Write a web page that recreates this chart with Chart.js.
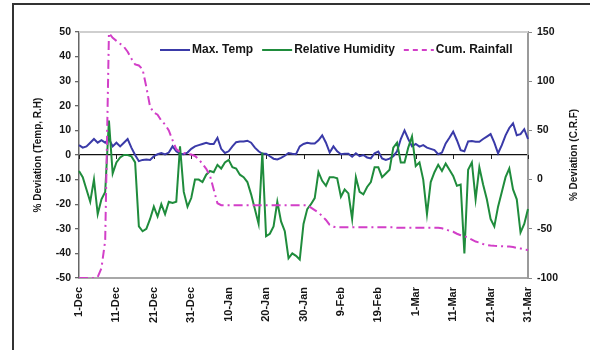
<!DOCTYPE html>
<html>
<head>
<meta charset="utf-8">
<script src="https://cdn.jsdelivr.net/npm/chart.js@4/dist/chart.umd.min.js"></script>
<style>
  html, body { margin: 0; padding: 0; background: #fff; overflow: hidden; }
  #wrap { position: relative; width: 590px; height: 350px; overflow: hidden; background: #fff; }
  #frame { position: absolute; left: 12px; top: 3px; width: 700px; height: 500px;
           border-left: 2px solid #333; border-top: 2px solid #333; }
  #c { position: absolute; left: 0; top: 0; }
</style>
</head>
<body>
<div id="wrap">
  <div id="frame"></div>
  <canvas id="c" width="590" height="350"></canvas>
</div>
<script>
// Daily deviations, 1 December to 31 March
const months = [['Dec', 31], ['Jan', 31], ['Feb', 28], ['Mar', 31]];
const days = [];
months.forEach(([m, n]) => { for (let d = 1; d <= n; d++) days.push(d + '-' + m); });

const tickLabels = ['1-Dec', '11-Dec', '21-Dec', '31-Dec', '10-Jan', '20-Jan', '30-Jan',
                    '9-Feb', '19-Feb', '1-Mar', '11-Mar', '21-Mar', '31-Mar'];

// % deviation of maximum temperature (left axis)
const maxTemp = [
  4, 3, 3.5, 5, 6.5, 5, 6, 5, 6.5, 3.5,
  5, 3.5, 5, 6.5, 3, 0, -2.5, -2, -1.8, -2,
  -0.5, 0.3, 0.8, 0.2, 1, 3.5, 1.5, 0.5, 0.3, 1,
  2.5, 3.5, 4, 4.5, 5, 4.5, 4.5, 7, 2.5, 0.8,
  1.5, 3.5, 5.2, 5.5, 5.5, 5.8, 5, 3, 1.5, 0.5,
  0.5, -0.5, -1.5, -1.8, -1.2, -0.3, 0.8, 0.5, 0.3, 3.5,
  4.5, 5, 4.7, 4.7, 6, 8, 5, 1, 3.5, 1.5,
  0.3, 0.5, 0.5, -0.7, 0.7, -0.5, 0, -1, -1.4, 0.7,
  1.4, -1.4, -2, -1.5, -0.5, 1.5, 6.5, 10, 6.5, 3.5,
  4.5, 3.4, 4, 3, 2.5, 2, 0.3, 1, 4.7, 7,
  9.5, 6, 2, 1.5, 5.5, 5.7, 5.4, 5.4, 6.5, 7.5,
  8.5, 5, 0.7, 4, 8, 11, 12.9, 8, 8.5, 10.5,
  6.5
];

// % deviation of relative humidity (left axis)
const relHumidity = [
  -6.5, -9, -14, -19, -10, -24, -18, -15, 14, -7.5,
  -3, -1, 0, 0, -0.5, -3, -29, -31, -30, -26,
  -21, -25, -20, -24, -19, -19.5, -19, 3.5, -15, -21,
  -17.5, -10, -10, -11, -8, -6.5, -7, -4, -5.5, -3,
  -2, -5, -5.5, -8, -9, -11, -16, -22, -28, 1,
  -33, -32, -29, -19, -27, -31, -42, -40, -41, -42.5,
  -28, -22, -20, -17.5, -7, -10.5, -12.5, -9, -9, -9.5,
  -17, -14, -15.6, -26, -9, -15, -16, -13, -11, -5,
  -5, -9, -7.5, -6, 3, 5, -3, -3, 3, 7.5,
  -4.5, -3, -10, -24, -11, -7, -4, -6.5, -3.5, -6,
  -8.5, -12.5, -12, -40, -6, -3, -18, -5, -12, -18,
  -26, -29, -21, -15, -9, -5.5, -14, -18, -31.5, -28,
  -22
];

// % deviation of cumulative rainfall (right axis)
const cumRainfall = [
  -100, -100, -100, -100, -100, -99, -90, -62, 149, 144,
  141, 138, 135, 130, 123, 117, 116, 112, 94, 74,
  68, 66, 60, 56, 50, 40, 31, 28, 27, 26,
  25.5, 24, 20.5, 16, 11, 4, -10, -24, -26, -26,
  -26, -26, -26, -26, -26, -26, -26, -26, -26, -26,
  -26, -26, -26, -26, -26, -26, -26, -26, -26, -26,
  -26, -26, -28.5, -31, -33.5, -37, -41, -46, -48, -48.5,
  -48.5, -48.5, -48.5, -48.5, -48.5, -48.5, -48.5, -48.5, -48.5, -48.5,
  -48.5, -48.5, -48.5, -48.5, -48.5, -49, -49, -49, -49, -49,
  -49, -49, -49, -49, -49, -49, -49, -49.5, -50.5, -52,
  -53, -55, -56.5, -57.5, -59, -61, -63, -64, -65.5, -66.5,
  -67, -67.3, -67.5, -67.7, -68, -68, -68.5, -69.5, -70, -71,
  -71.5
];

const FONT = "'Liberation Sans', Arial, Helvetica, sans-serif";
const TEXT = '#151515';
const BLUE = '#3a3aa8';
const GREEN = '#1f8c3c';
const PINK = '#d23fc8';

// Plot-area top edge, category ticks on the zero line, axis titles
const decorations = {
  id: 'decorations',
  beforeDatasetsDraw(chart) {
    const { ctx, chartArea: a, scales } = chart;
    ctx.save();
    ctx.strokeStyle = '#cfcfcf';
    ctx.lineWidth = 2;
    ctx.beginPath();
    ctx.moveTo(a.left, a.top);
    ctx.lineTo(a.right, a.top);
    ctx.stroke();
    const y0 = scales.y.getPixelForValue(0);
    ctx.strokeStyle = '#222';
    ctx.lineWidth = 1;
    days.forEach((d, i) => {
      if (tickLabels.includes(d)) {
        const x = Math.round(scales.x.getPixelForValue(i)) + 0.5;
        ctx.beginPath();
        ctx.moveTo(x, y0);
        ctx.lineTo(x, y0 + 4);
        ctx.stroke();
      }
    });
    ctx.restore();
  },
  afterDraw(chart) {
    const { ctx, chartArea: a } = chart;
    const cy = (a.top + a.bottom) / 2;
    ctx.save();
    ctx.fillStyle = TEXT;
    ctx.font = 'bold 10px ' + FONT;
    ctx.textAlign = 'center';
    ctx.textBaseline = 'middle';
    [[38, '% Deviation (Temp, R.H)'], [574, '% Deviation (C.R.F)']].forEach(([x, t]) => {
      ctx.save();
      ctx.translate(x, cy);
      ctx.rotate(-Math.PI / 2);
      ctx.fillText(t, 0, 0);
      ctx.restore();
    });
    ctx.restore();
  }
};

// Legend inside the plot area, one row
const insideLegend = {
  id: 'insideLegend',
  afterDraw(chart) {
    const { ctx, chartArea: a } = chart;
    let x = a.left + 81;
    const y = a.top + 18;
    ctx.save();
    ctx.font = 'bold 12px ' + FONT;
    ctx.textBaseline = 'middle';
    ctx.textAlign = 'left';
    chart.data.datasets.forEach(ds => {
      ctx.strokeStyle = ds.borderColor;
      ctx.lineWidth = 2;
      ctx.setLineDash(ds.legendDash || []);
      ctx.beginPath();
      ctx.moveTo(x, y);
      ctx.lineTo(x + 30, y);
      ctx.stroke();
      ctx.setLineDash([]);
      ctx.fillStyle = TEXT;
      ctx.fillText(ds.label, x + 32, y);
      x += 32 + ctx.measureText(ds.label).width + 9;
    });
    ctx.restore();
  }
};

const tickFont = { family: FONT, size: 10.5, weight: 'bold' };

new Chart(document.getElementById('c'), {
  type: 'line',
  data: {
    labels: days,
    datasets: [
      { label: 'Max. Temp', data: maxTemp, yAxisID: 'y', borderColor: BLUE,
        borderWidth: 2, order: 3 },
      { label: 'Relative Humidity', data: relHumidity, yAxisID: 'y', borderColor: GREEN,
        borderWidth: 2, order: 2 },
      { label: 'Cum. Rainfall', data: cumRainfall, yAxisID: 'y1', borderColor: PINK,
        borderWidth: 2, borderDash: [9, 4, 2, 4], legendDash: [5, 4], order: 1 }
    ]
  },
  options: {
    responsive: false,
    animation: false,
    elements: { point: { radius: 0 }, line: { tension: 0, fill: false } },
    layout: { padding: { top: 32, left: 0, right: 0, bottom: 0 } },
    plugins: { legend: { display: false }, tooltip: { enabled: false } },
    scales: {
      x: {
        type: 'category',
        offset: false,
        grid: { display: false, drawTicks: false },
        border: { display: true, color: '#a8a8a8', width: 2 },
        ticks: {
          autoSkip: false, minRotation: 90, maxRotation: 90, padding: 9,
          color: TEXT, font: { family: FONT, size: 11, weight: 'bold' },
          callback: function (v) {
            const l = this.getLabelForValue(v);
            return tickLabels.includes(l) ? l : null;
          }
        },
        afterFit(s) { s.height = 72; }
      },
      y: {
        position: 'left', min: -50, max: 50,
        ticks: { stepSize: 10, padding: 4, color: TEXT, font: tickFont },
        grid: {
          color: c => (c.tick && c.tick.value === 0 ? '#111' : 'rgba(0,0,0,0)'),
          lineWidth: 1.3, tickColor: '#666', tickLength: 4
        },
        border: { color: '#666', width: 1.5 },
        afterFit(s) { s.width = 79; }
      },
      y1: {
        position: 'right', min: -100, max: 150,
        ticks: { stepSize: 50, padding: 5, color: TEXT, font: tickFont },
        grid: { drawOnChartArea: false, tickColor: '#888', tickLength: 4 },
        border: { color: '#9a9a9a', width: 2 },
        afterFit(s) { s.width = 62; }
      }
    }
  },
  plugins: [decorations, insideLegend]
});
</script>
</body>
</html>
